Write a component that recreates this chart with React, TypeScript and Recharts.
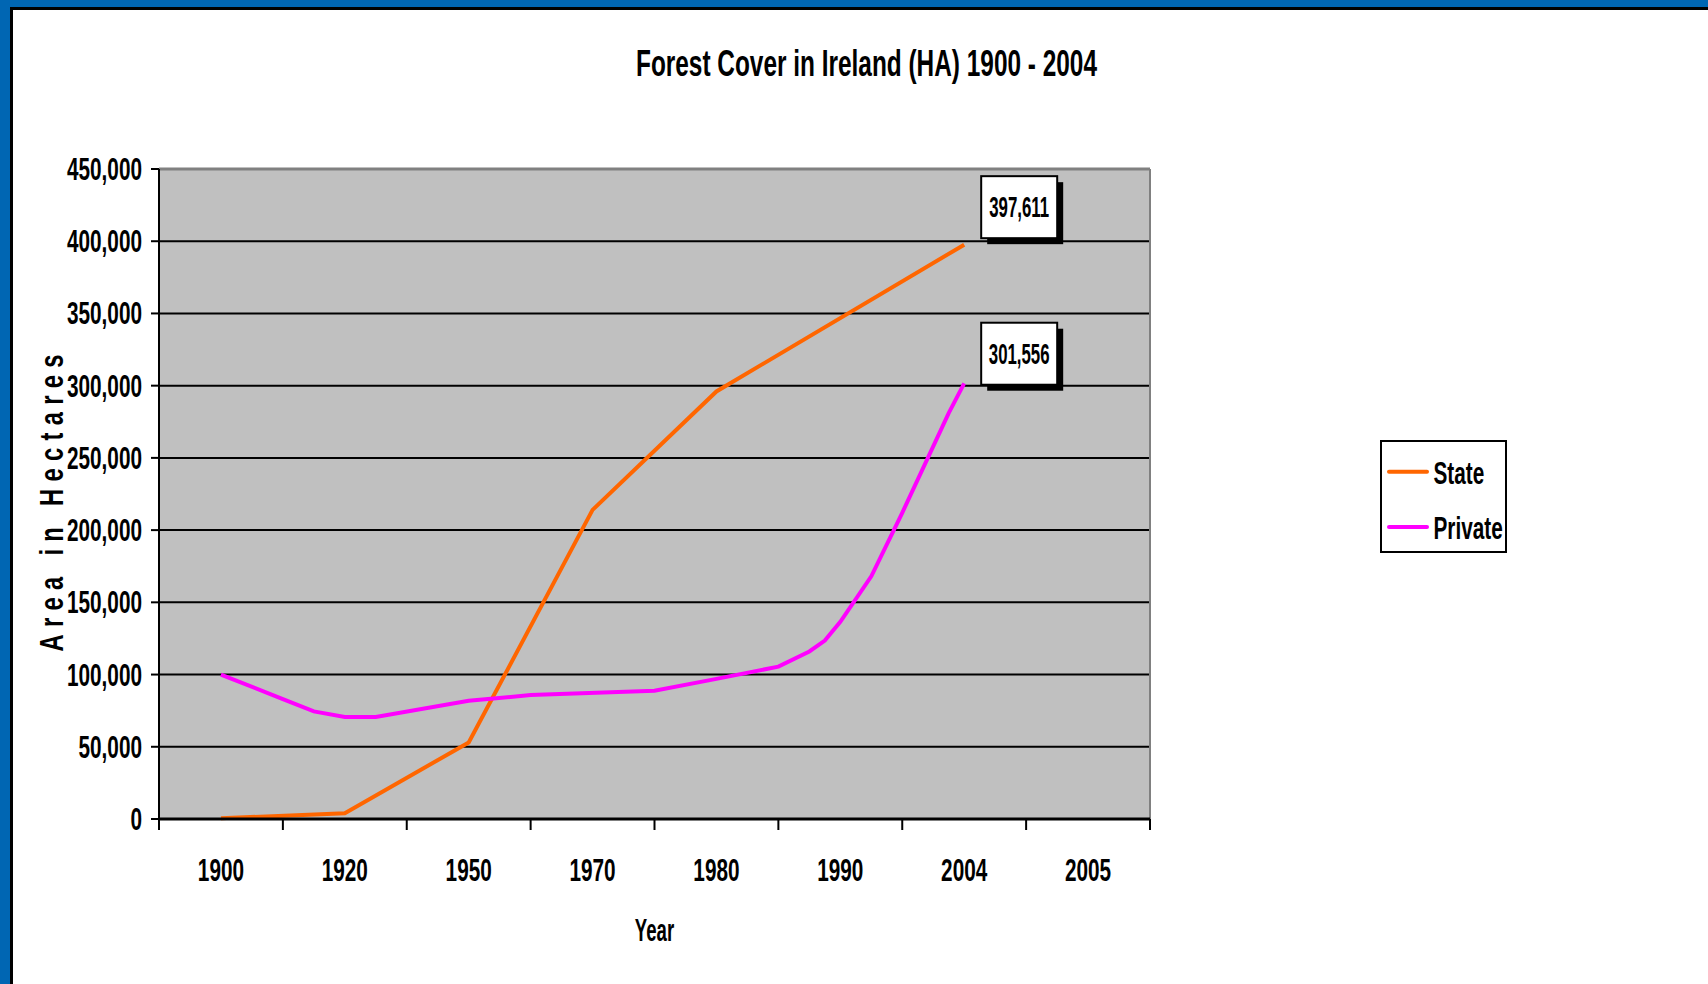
import React from 'react';
import { LineChart, Line, XAxis, YAxis, CartesianGrid, ReferenceLine, Legend, LabelList } from 'recharts';

// ---- data ----
const yearLabels = ['1900', '1920', '1950', '1970', '1980', '1990', '2004', '2005'];
const labelPositions = [0.5, 1.5, 2.5, 3.5, 4.5, 5.5, 6.5, 7.5];
const boundaryPositions = [0, 1, 2, 3, 4, 5, 6, 7, 8];
const yTicks = [0, 50000, 100000, 150000, 200000, 250000, 300000, 350000, 400000, 450000];
const seriesNames = ['State', 'Private'];

const statePositions = [0.5, 1.5, 2.5, 3.5, 4.5, 6.5];
const stateValues = [500, 4000, 53000, 214000, 296000, 397611];

const privatePositions = [0.5, 1, 1.25, 1.5, 1.75, 2.5, 3, 4, 4.5, 5, 5.25, 5.375, 5.5, 5.75, 6, 6.25, 6.375, 6.5];
const privateValues = [100000, 83000, 74500, 70700, 70700, 81800, 85800, 88800, 97000, 105500, 116000, 123500, 136500, 168000, 212000, 258000, 281000, 301556];

const allPositions = Array.from(new Set([...statePositions, ...privatePositions])).sort((a, b) => a - b);
const rows = allPositions.map((pos) => {
  const si = statePositions.indexOf(pos);
  const pi = privatePositions.indexOf(pos);
  return {
    pos,
    state: si >= 0 ? stateValues[si] : null,
    private: pi >= 0 ? privateValues[pi] : null,
  };
});
const stateLast = rows.map((r) => r.state !== null).lastIndexOf(true);
const privateLast = rows.map((r) => r.private !== null).lastIndexOf(true);

// ---- styles ----
const FONT = "'Liberation Sans', Arial, Helvetica, sans-serif";
const BLUE = '#0066B3';
const ORANGE = '#FF6600';
const MAGENTA = '#FF00FF';

function CondText({ x, y, text, size, sx = 0.67, anchor = 'middle' }: any) {
  return (
    <text
      transform={`translate(${x},${y}) scale(${sx},1)`}
      textAnchor={anchor}
      fontSize={size}
      fontWeight="bold"
      fontFamily={FONT}
      fill="#000"
    >
      {text}
    </text>
  );
}

const YTick = (props: any) => {
  const { x, y, payload } = props;
  return <CondText x={x} y={y + 11} text={Number(payload.value).toLocaleString('en-US')} size={31} anchor="end" />;
};

const EmptyTick = () => <g />;

const XLabelTick = (props: any) => {
  const { x, y, payload } = props;
  const i = labelPositions.indexOf(payload.value);
  return <CondText x={x} y={y} text={i >= 0 ? yearLabels[i] : ''} size={31} />;
};

const YearLabel = (props: any) => {
  const vb = props.viewBox || { x: 0, y: 0, width: 0 };
  return <CondText x={vb.x + vb.width / 2} y={vb.y + 110} text="Year" size={31} sx={0.6} />;
};

const AreaLabel = () => (
  <text
    transform="translate(63,503) rotate(-90) scale(0.72,1)"
    textAnchor="middle"
    fontSize={33}
    fontWeight="bold"
    fontFamily={FONT}
    fill="#000"
    textLength={297 / 0.72}
    lengthAdjust="spacing"
  >
    Area in Hectares
  </text>
);

const makeValueBox = (lastIndex: number, dy: number) => (props: any) => {
  const { x, y, index, value } = props;
  if (index !== lastIndex || x == null || y == null) return null;
  const bx = x + 17;
  const by = y + dy;
  return (
    <g>
      <rect x={bx + 6} y={by + 6} width={76} height={62} fill="#000" />
      <rect x={bx} y={by} width={76} height={62} fill="#fff" stroke="#000" strokeWidth={2} />
      <CondText x={bx + 38} y={by + 41} text={Number(value).toLocaleString('en-US')} size={29} sx={0.58} />
    </g>
  );
};

const renderLegend = (props: any) => {
  const payload = [...(props.payload || [])].sort(
    (a: any, b: any) => seriesNames.indexOf(a.value) - seriesNames.indexOf(b.value)
  );
  return (
    <div style={{ width: 127, height: 113, boxSizing: 'border-box', border: '2px solid #000', background: '#fff' }}>
      <svg width={123} height={109} style={{ display: 'block' }}>
        {payload.map((entry: any, i: number) => (
          <g key={i}>
            <line x1={7} x2={45} y1={29.7 + i * 55.3} y2={29.7 + i * 55.3} stroke={entry.color} strokeWidth={4} strokeLinecap="round" />
            <CondText x={51.5} y={41.6 + i * 55.3} text={entry.value} size={31} anchor="start" />
          </g>
        ))}
      </svg>
    </div>
  );
};

export default function App() {
  return (
    <div style={{ position: 'absolute', left: 0, top: 0, width: 1708, height: 984, background: '#fff', overflow: 'hidden' }}>
      <LineChart
        width={1708}
        height={984}
        data={rows}
        margin={{ top: 169, right: 558, left: 0, bottom: 13 }}
      >
        <CartesianGrid vertical={false} stroke="#000" strokeWidth={2} fill="#C0C0C0" fillOpacity={1} />
        <XAxis
          type="number"
          dataKey="pos"
          domain={[0, 8]}
          ticks={boundaryPositions}
          interval={0}
          height={12}
          tickSize={11}
          tick={<EmptyTick />}
          axisLine={{ stroke: '#000', strokeWidth: 3 }}
          tickLine={{ stroke: '#000', strokeWidth: 2 }}
        />
        <XAxis
          xAxisId="labels"
          type="number"
          dataKey="pos"
          domain={[0, 8]}
          ticks={labelPositions}
          interval={0}
          height={140}
          tickSize={0}
          tickMargin={50}
          tickLine={false}
          axisLine={false}
          tick={<XLabelTick />}
          label={{ content: <YearLabel /> } as any}
        />
        <YAxis
          type="number"
          domain={[0, 450000]}
          ticks={yTicks}
          interval={0}
          width={159}
          tickSize={8}
          tickMargin={9}
          axisLine={{ stroke: '#000', strokeWidth: 2 }}
          tickLine={{ stroke: '#000', strokeWidth: 2 }}
          tick={<YTick />}
          label={{ content: <AreaLabel /> } as any}
        />
        <ReferenceLine y={450000} stroke="#808080" strokeWidth={3} />
        <ReferenceLine x={8} stroke="#808080" strokeWidth={2} />
        <Legend
          layout="vertical"
          align="center"
          verticalAlign="middle"
          content={renderLegend}
          itemSorter={(item: any) => seriesNames.indexOf(item.value)}
          wrapperStyle={{ left: 1380, top: 440, width: 127, height: 113 }}
        />
        <Line
          type="linear"
          dataKey="state"
          name="State"
          stroke={ORANGE}
          strokeWidth={4}
          dot={false}
          connectNulls
          isAnimationActive={false}
        >
          <LabelList dataKey="state" content={makeValueBox(stateLast, -68.5)} />
        </Line>
        <Line
          type="linear"
          dataKey="private"
          name="Private"
          stroke={MAGENTA}
          strokeWidth={4}
          dot={false}
          connectNulls
          isAnimationActive={false}
        >
          <LabelList dataKey="private" content={makeValueBox(privateLast, -60.7)} />
        </Line>
      </LineChart>
      <svg width={1708} height={984} style={{ position: 'absolute', left: 0, top: 0, pointerEvents: 'none' }}>
        <text
          x={866.5}
          y={76}
          textAnchor="middle"
          fontSize={36}
          fontWeight="bold"
          fontFamily={FONT}
          fill="#000"
          textLength={461}
          lengthAdjust="spacingAndGlyphs"
        >
          Forest Cover in Ireland (HA) 1900 - 2004
        </text>
      </svg>
      <div style={{ position: 'absolute', left: 0, top: 0, width: 1708, height: 7, background: BLUE }} />
      <div style={{ position: 'absolute', left: 0, top: 0, width: 10, height: 984, background: BLUE }} />
      <div style={{ position: 'absolute', left: 10, top: 7, width: 1698, height: 2.5, background: '#000' }} />
      <div style={{ position: 'absolute', left: 10, top: 7, width: 3, height: 977, background: '#000' }} />
    </div>
  );
}
